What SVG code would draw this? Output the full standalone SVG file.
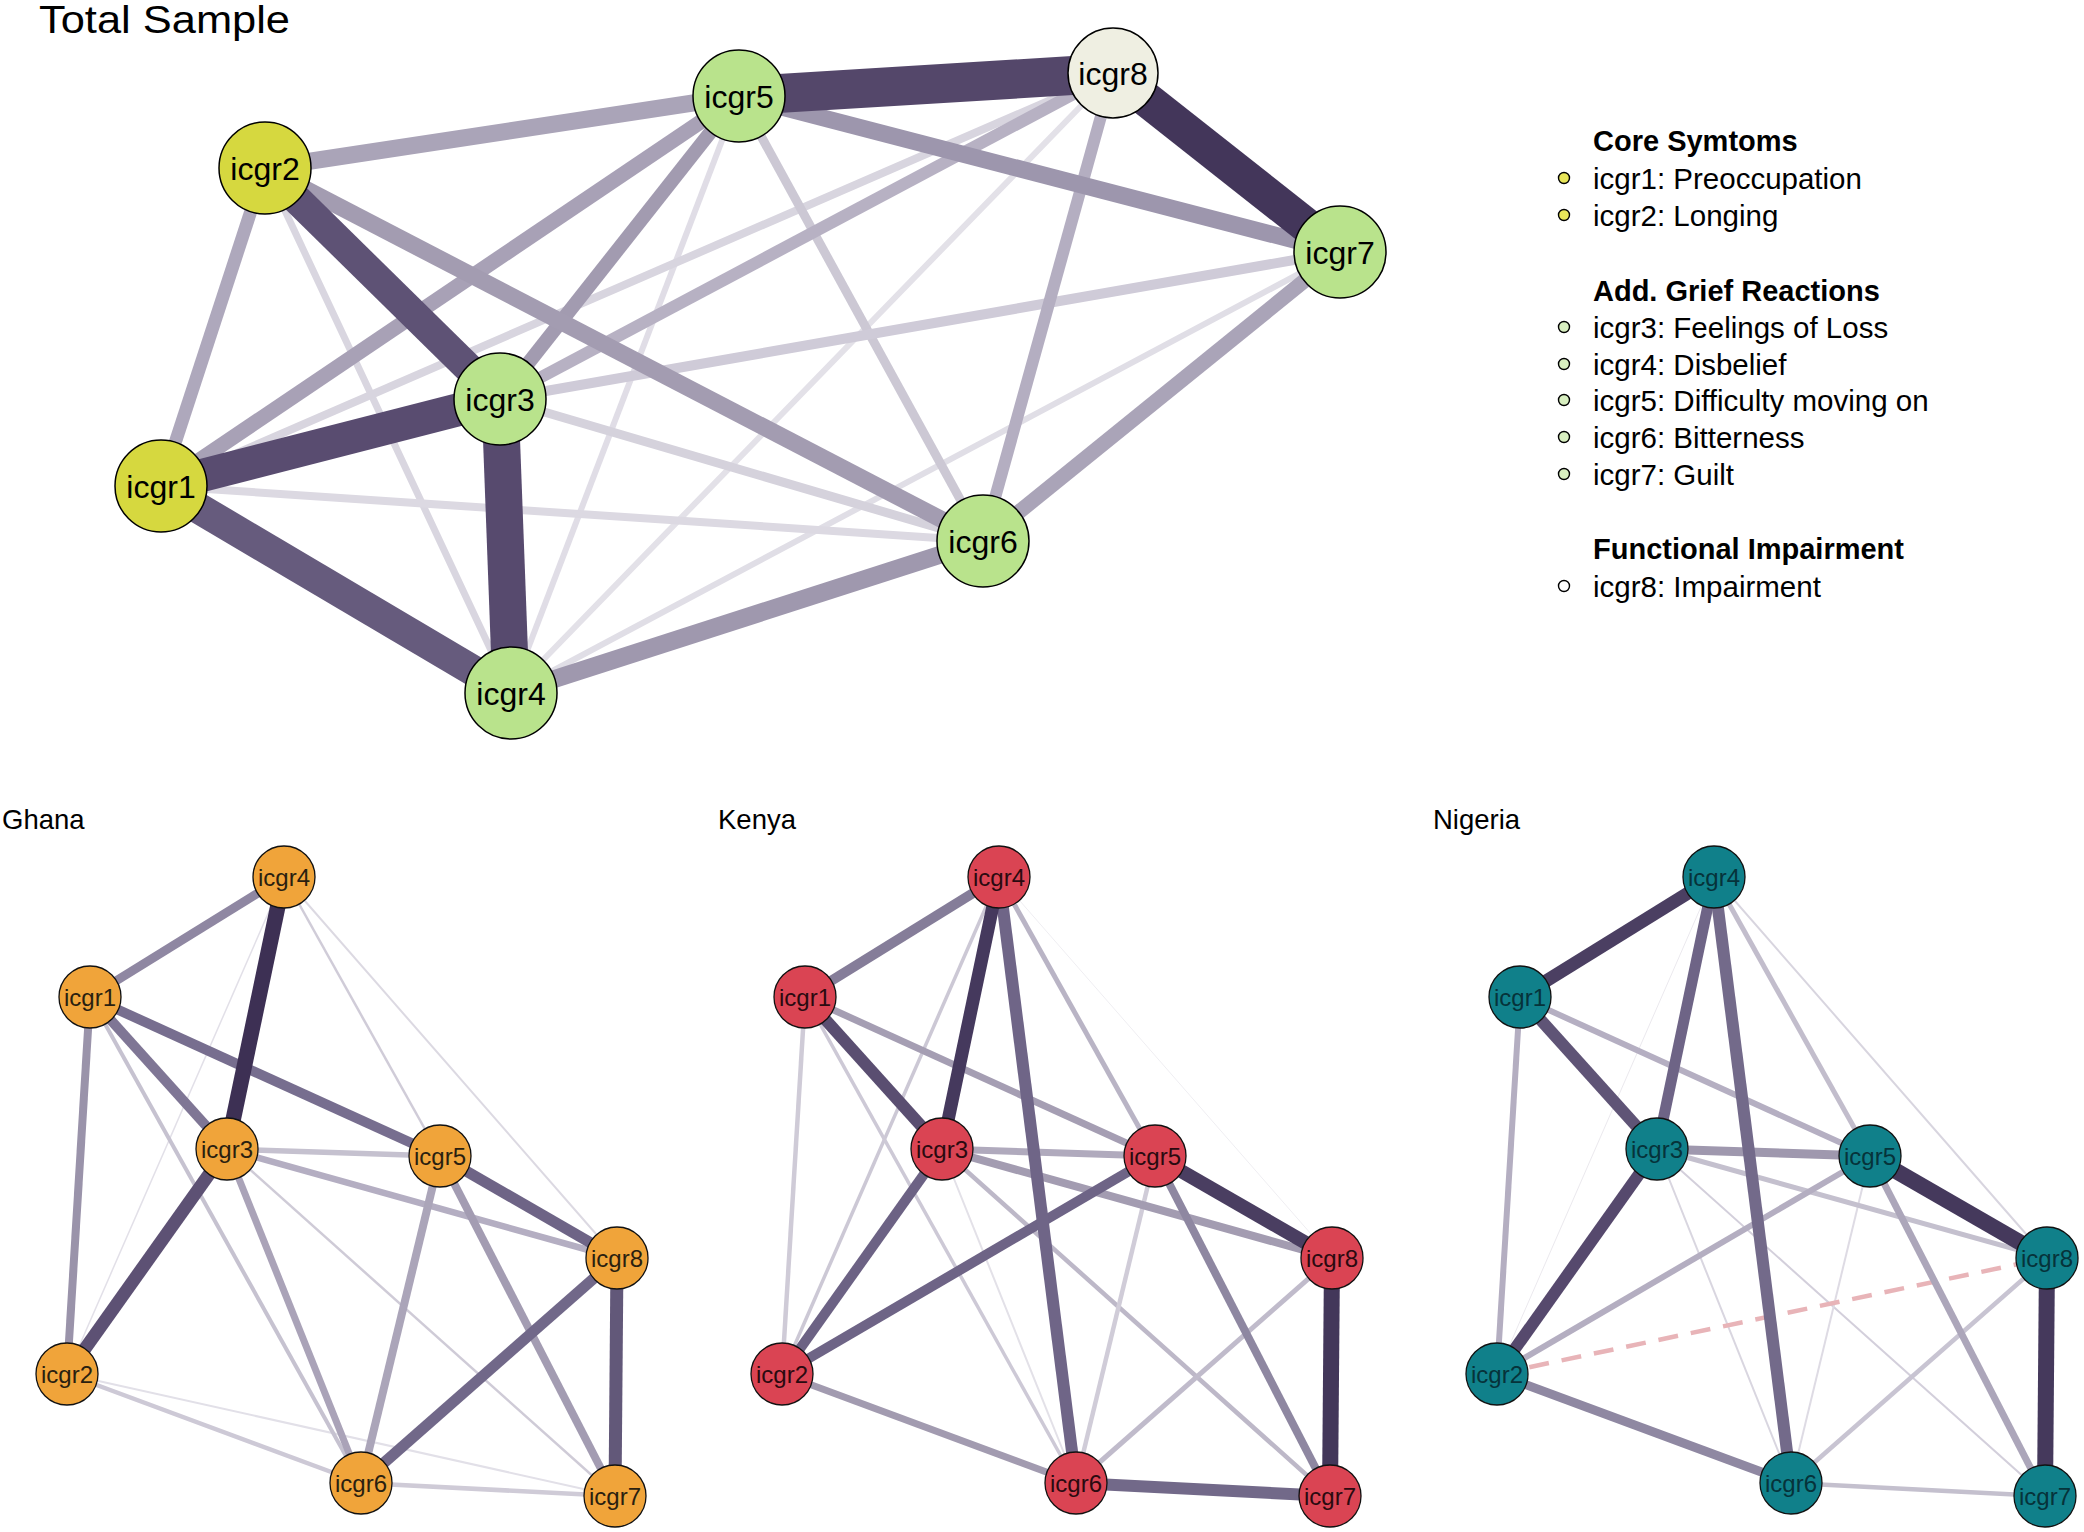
<svg xmlns="http://www.w3.org/2000/svg" width="2084" height="1532" viewBox="0 0 2084 1532">
<style>
text{font-family:"Liberation Sans",Arial,sans-serif}
.e line{stroke-linecap:butt;fill:none}
.tn circle{stroke:#000;stroke-width:1.5}
.tn text{font-size:32px;text-anchor:middle;fill:#000}
.sn circle{stroke:#111;stroke-width:1.3}
.sn text{font-size:24px;text-anchor:middle}
.gh circle{fill:#f0a43a}.gh text{fill:#2a1f10}
.ke circle{fill:#da4453}.ke text{fill:#2a0a10}
.ni circle{fill:#10808a}.ni text{fill:#06333a}
.yel{fill:#d6d83f}.grn{fill:#b9e38c}.wht{fill:#efefe2}
.ptitle{font-size:27.5px;fill:#000}
.lh{font-size:29px;font-weight:bold;fill:#000}
.li{font-size:29.5px;fill:#000}
.lb{stroke:#000;stroke-width:1.4}
</style>

<text x="39" y="33" font-size="38" textLength="251" lengthAdjust="spacingAndGlyphs" fill="#000">Total Sample</text>

<g id="ts-edges" class="e">
<line x1="739" y1="96" x2="511" y2="693" stroke="#e0dde6" stroke-width="6"/>
<line x1="1113" y1="73" x2="511" y2="693" stroke="#e3e1e8" stroke-width="6"/>
<line x1="1340" y1="252" x2="511" y2="693" stroke="#e0dee6" stroke-width="6"/>
<line x1="265" y1="168" x2="511" y2="693" stroke="#d9d6e0" stroke-width="7"/>
<line x1="161" y1="486" x2="983" y2="541" stroke="#dcd9e2" stroke-width="8"/>
<line x1="161" y1="486" x2="1113" y2="73" stroke="#d8d5df" stroke-width="8"/>
<line x1="500" y1="399" x2="983" y2="541" stroke="#d5d2dc" stroke-width="9"/>
<line x1="739" y1="96" x2="983" y2="541" stroke="#ccc8d4" stroke-width="9"/>
<line x1="1340" y1="252" x2="500" y2="399" stroke="#cfcbd8" stroke-width="10"/>
<line x1="1113" y1="73" x2="500" y2="399" stroke="#b7b1c3" stroke-width="12"/>
<line x1="1113" y1="73" x2="983" y2="541" stroke="#b4aec1" stroke-width="12"/>
<line x1="161" y1="486" x2="265" y2="168" stroke="#aea8bc" stroke-width="13"/>
<line x1="500" y1="399" x2="739" y2="96" stroke="#a29bb0" stroke-width="14"/>
<line x1="1340" y1="252" x2="983" y2="541" stroke="#aaa4b8" stroke-width="15"/>
<line x1="161" y1="486" x2="739" y2="96" stroke="#a8a1b6" stroke-width="15"/>
<line x1="265" y1="168" x2="739" y2="96" stroke="#aaa4b8" stroke-width="17"/>
<line x1="265" y1="168" x2="983" y2="541" stroke="#a39cb1" stroke-width="17"/>
<line x1="739" y1="96" x2="1340" y2="252" stroke="#9d96ad" stroke-width="17"/>
<line x1="511" y1="693" x2="983" y2="541" stroke="#9f98ae" stroke-width="18"/>
<line x1="265" y1="168" x2="500" y2="399" stroke="#5e5275" stroke-width="30"/>
<line x1="161" y1="486" x2="511" y2="693" stroke="#665b7d" stroke-width="31"/>
<line x1="161" y1="486" x2="500" y2="399" stroke="#594c70" stroke-width="33"/>
<line x1="500" y1="399" x2="511" y2="693" stroke="#574a6e" stroke-width="37"/>
<line x1="1113" y1="73" x2="1340" y2="252" stroke="#43365a" stroke-width="35"/>
<line x1="739" y1="96" x2="1113" y2="73" stroke="#54476a" stroke-width="39"/>
</g>

<g class="tn">
<g id="ts-icgr1"><circle cx="161" cy="486" r="46" class="yel"/><text x="161" y="498">icgr1</text></g>
<g id="ts-icgr2"><circle cx="265" cy="168" r="46" class="yel"/><text x="265" y="180">icgr2</text></g>
<g id="ts-icgr3"><circle cx="500" cy="399" r="46" class="grn"/><text x="500" y="411">icgr3</text></g>
<g id="ts-icgr4"><circle cx="511" cy="693" r="46" class="grn"/><text x="511" y="705">icgr4</text></g>
<g id="ts-icgr5"><circle cx="739" cy="96" r="46" class="grn"/><text x="739" y="108">icgr5</text></g>
<g id="ts-icgr6"><circle cx="983" cy="541" r="46" class="grn"/><text x="983" y="553">icgr6</text></g>
<g id="ts-icgr7"><circle cx="1340" cy="252" r="46" class="grn"/><text x="1340" y="264">icgr7</text></g>
<g id="ts-icgr8"><circle cx="1113" cy="73" r="45" class="wht"/><text x="1113" y="85">icgr8</text></g>
</g>

<g id="legend">
<text x="1593" y="151" class="lh">Core Symtoms</text>
<circle cx="1564" cy="178" r="5.5" fill="#e8e65a" class="lb"/><text x="1593" y="189" class="li">icgr1: Preoccupation</text>
<circle cx="1564" cy="215" r="5.5" fill="#e8e65a" class="lb"/><text x="1593" y="226" class="li">icgr2: Longing</text>
<text x="1593" y="301" class="lh">Add. Grief Reactions</text>
<circle cx="1564" cy="327" r="5.5" fill="#d8efc0" class="lb"/><text x="1593" y="338" class="li">icgr3: Feelings of Loss</text>
<circle cx="1564" cy="364" r="5.5" fill="#d8efc0" class="lb"/><text x="1593" y="375" class="li">icgr4: Disbelief</text>
<circle cx="1564" cy="400" r="5.5" fill="#d8efc0" class="lb"/><text x="1593" y="411" class="li">icgr5: Difficulty moving on</text>
<circle cx="1564" cy="437" r="5.5" fill="#d8efc0" class="lb"/><text x="1593" y="448" class="li">icgr6: Bitterness</text>
<circle cx="1564" cy="474" r="5.5" fill="#d8efc0" class="lb"/><text x="1593" y="485" class="li">icgr7: Guilt</text>
<text x="1593" y="559" class="lh">Functional Impairment</text>
<circle cx="1564" cy="586" r="5.5" fill="#ffffff" class="lb"/><text x="1593" y="597" class="li">icgr8: Impairment</text>
</g>

<!-- Ghana -->
<text x="2" y="829" class="ptitle">Ghana</text>
<g id="gh-edges" class="e">
<line x1="284" y1="877" x2="67" y2="1374" stroke="#e2e0e8" stroke-width="1.5"/>
<line x1="67" y1="1374" x2="615" y2="1496" stroke="#e2e0e8" stroke-width="2"/>
<line x1="284" y1="877" x2="617" y2="1258" stroke="#dcd9e2" stroke-width="2"/>
<line x1="284" y1="877" x2="440" y2="1156" stroke="#d0ccd8" stroke-width="2.5"/>
<line x1="227" y1="1149" x2="615" y2="1496" stroke="#cfcbd7" stroke-width="2.5"/>
<line x1="90" y1="997" x2="361" y2="1483" stroke="#c6c2d0" stroke-width="4"/>
<line x1="67" y1="1374" x2="361" y2="1483" stroke="#cdc9d6" stroke-width="4.5"/>
<line x1="361" y1="1483" x2="615" y2="1496" stroke="#cfcbd7" stroke-width="4.5"/>
<line x1="227" y1="1149" x2="440" y2="1156" stroke="#c5c1cf" stroke-width="5.5"/>
<line x1="227" y1="1149" x2="617" y2="1258" stroke="#b4aec2" stroke-width="6.5"/>
<line x1="227" y1="1149" x2="361" y2="1483" stroke="#aaa3b8" stroke-width="7"/>
<line x1="440" y1="1156" x2="361" y2="1483" stroke="#aba5b9" stroke-width="8"/>
<line x1="440" y1="1156" x2="615" y2="1496" stroke="#a39cb2" stroke-width="8"/>
<line x1="90" y1="997" x2="67" y2="1374" stroke="#9a93aa" stroke-width="8"/>
<line x1="284" y1="877" x2="90" y2="997" stroke="#8f87a2" stroke-width="9"/>
<line x1="90" y1="997" x2="227" y2="1149" stroke="#7f7695" stroke-width="10"/>
<line x1="90" y1="997" x2="440" y2="1156" stroke="#776e8f" stroke-width="10"/>
<line x1="617" y1="1258" x2="361" y2="1483" stroke="#716889" stroke-width="11"/>
<line x1="440" y1="1156" x2="617" y2="1258" stroke="#6e6486" stroke-width="11"/>
<line x1="617" y1="1258" x2="615" y2="1496" stroke="#625879" stroke-width="13"/>
<line x1="227" y1="1149" x2="67" y2="1374" stroke="#5d5174" stroke-width="13"/>
<line x1="284" y1="877" x2="227" y2="1149" stroke="#3d3054" stroke-width="15.5"/>
</g>
<g class="sn gh">
<g id="gh-icgr1"><circle cx="90" cy="997" r="31"/><text x="90" y="1005.5">icgr1</text></g>
<g id="gh-icgr2"><circle cx="67" cy="1374" r="31"/><text x="67" y="1382.5">icgr2</text></g>
<g id="gh-icgr3"><circle cx="227" cy="1149" r="31"/><text x="227" y="1157.5">icgr3</text></g>
<g id="gh-icgr4"><circle cx="284" cy="877" r="31"/><text x="284" y="885.5">icgr4</text></g>
<g id="gh-icgr5"><circle cx="440" cy="1156" r="31"/><text x="440" y="1164.5">icgr5</text></g>
<g id="gh-icgr6"><circle cx="361" cy="1483" r="31"/><text x="361" y="1491.5">icgr6</text></g>
<g id="gh-icgr7"><circle cx="615" cy="1496" r="31"/><text x="615" y="1504.5">icgr7</text></g>
<g id="gh-icgr8"><circle cx="617" cy="1258" r="31"/><text x="617" y="1266.5">icgr8</text></g>
</g>

<!-- Kenya -->
<text x="718" y="829" class="ptitle">Kenya</text>
<g transform="translate(715,0)">
<g id="ke-edges" class="e">
<line x1="284" y1="877" x2="617" y2="1258" stroke="#efeef2" stroke-width="1"/>
<line x1="227" y1="1149" x2="361" y2="1483" stroke="#e3e1e8" stroke-width="2"/>
<line x1="284" y1="877" x2="67" y2="1374" stroke="#ccc8d5" stroke-width="3.5"/>
<line x1="90" y1="997" x2="361" y2="1483" stroke="#cdc9d6" stroke-width="3.5"/>
<line x1="90" y1="997" x2="67" y2="1374" stroke="#cfcbd7" stroke-width="4.5"/>
<line x1="227" y1="1149" x2="615" y2="1496" stroke="#bdb8c8" stroke-width="4.5"/>
<line x1="440" y1="1156" x2="361" y2="1483" stroke="#d0ccd8" stroke-width="4.5"/>
<line x1="617" y1="1258" x2="361" y2="1483" stroke="#c0bbcb" stroke-width="5"/>
<line x1="284" y1="877" x2="440" y2="1156" stroke="#b9b4c5" stroke-width="5"/>
<line x1="90" y1="997" x2="440" y2="1156" stroke="#a59eb3" stroke-width="7"/>
<line x1="227" y1="1149" x2="440" y2="1156" stroke="#b0aabd" stroke-width="7"/>
<line x1="67" y1="1374" x2="361" y2="1483" stroke="#a29bb0" stroke-width="7"/>
<line x1="227" y1="1149" x2="617" y2="1258" stroke="#a39cb1" stroke-width="8"/>
<line x1="440" y1="1156" x2="615" y2="1496" stroke="#8e87a1" stroke-width="8"/>
<line x1="284" y1="877" x2="90" y2="997" stroke="#857d99" stroke-width="10"/>
<line x1="227" y1="1149" x2="67" y2="1374" stroke="#6c6284" stroke-width="10"/>
<line x1="440" y1="1156" x2="67" y2="1374" stroke="#6e6486" stroke-width="10"/>
<line x1="90" y1="997" x2="227" y2="1149" stroke="#5a4e71" stroke-width="12"/>
<line x1="361" y1="1483" x2="615" y2="1496" stroke="#726989" stroke-width="12"/>
<line x1="284" y1="877" x2="361" y2="1483" stroke="#6f6587" stroke-width="12"/>
<line x1="284" y1="877" x2="227" y2="1149" stroke="#45395d" stroke-width="13"/>
<line x1="440" y1="1156" x2="617" y2="1258" stroke="#4a3e61" stroke-width="14"/>
<line x1="617" y1="1258" x2="615" y2="1496" stroke="#43375a" stroke-width="16"/>
</g>
<g class="sn ke">
<g id="ke-icgr1"><circle cx="90" cy="997" r="31"/><text x="90" y="1005.5">icgr1</text></g>
<g id="ke-icgr2"><circle cx="67" cy="1374" r="31"/><text x="67" y="1382.5">icgr2</text></g>
<g id="ke-icgr3"><circle cx="227" cy="1149" r="31"/><text x="227" y="1157.5">icgr3</text></g>
<g id="ke-icgr4"><circle cx="284" cy="877" r="31"/><text x="284" y="885.5">icgr4</text></g>
<g id="ke-icgr5"><circle cx="440" cy="1156" r="31"/><text x="440" y="1164.5">icgr5</text></g>
<g id="ke-icgr6"><circle cx="361" cy="1483" r="31"/><text x="361" y="1491.5">icgr6</text></g>
<g id="ke-icgr7"><circle cx="615" cy="1496" r="31"/><text x="615" y="1504.5">icgr7</text></g>
<g id="ke-icgr8"><circle cx="617" cy="1258" r="31"/><text x="617" y="1266.5">icgr8</text></g>
</g>
</g>

<!-- Nigeria -->
<text x="1433" y="829" class="ptitle">Nigeria</text>
<g transform="translate(1430,0)">
<g id="ni-edges" class="e">
<line x1="284" y1="877" x2="67" y2="1374" stroke="#ebe9ee" stroke-width="1"/>
<line x1="284" y1="877" x2="617" y2="1258" stroke="#d8d5df" stroke-width="2"/>
<line x1="227" y1="1149" x2="361" y2="1483" stroke="#d9d6e0" stroke-width="2"/>
<line x1="227" y1="1149" x2="615" y2="1496" stroke="#d3cfdb" stroke-width="2"/>
<line x1="440" y1="1156" x2="361" y2="1483" stroke="#dedbe4" stroke-width="2"/>
<line x1="67" y1="1374" x2="617" y2="1258" stroke="#e8b4b8" stroke-width="4.5" stroke-dasharray="20 13"/>
<line x1="617" y1="1258" x2="361" y2="1483" stroke="#c8c4d2" stroke-width="4.5"/>
<line x1="361" y1="1483" x2="615" y2="1496" stroke="#c4c0ce" stroke-width="4.5"/>
<line x1="227" y1="1149" x2="617" y2="1258" stroke="#c4c0ce" stroke-width="5"/>
<line x1="284" y1="877" x2="440" y2="1156" stroke="#c2bdcc" stroke-width="5"/>
<line x1="90" y1="997" x2="440" y2="1156" stroke="#b5afc2" stroke-width="6"/>
<line x1="90" y1="997" x2="67" y2="1374" stroke="#b4aec1" stroke-width="6"/>
<line x1="440" y1="1156" x2="67" y2="1374" stroke="#b4aec1" stroke-width="6"/>
<line x1="440" y1="1156" x2="615" y2="1496" stroke="#aca6ba" stroke-width="7"/>
<line x1="227" y1="1149" x2="440" y2="1156" stroke="#9f98ae" stroke-width="9"/>
<line x1="67" y1="1374" x2="361" y2="1483" stroke="#8f88a2" stroke-width="9"/>
<line x1="284" y1="877" x2="227" y2="1149" stroke="#6e6486" stroke-width="11"/>
<line x1="284" y1="877" x2="361" y2="1483" stroke="#736a8a" stroke-width="12"/>
<line x1="90" y1="997" x2="227" y2="1149" stroke="#5f5476" stroke-width="12"/>
<line x1="227" y1="1149" x2="67" y2="1374" stroke="#56496d" stroke-width="12"/>
<line x1="284" y1="877" x2="90" y2="997" stroke="#4b3f62" stroke-width="13"/>
<line x1="440" y1="1156" x2="617" y2="1258" stroke="#45395c" stroke-width="16"/>
<line x1="617" y1="1258" x2="615" y2="1496" stroke="#45395c" stroke-width="16"/>
</g>
<g class="sn ni">
<g id="ni-icgr1"><circle cx="90" cy="997" r="31"/><text x="90" y="1005.5">icgr1</text></g>
<g id="ni-icgr2"><circle cx="67" cy="1374" r="31"/><text x="67" y="1382.5">icgr2</text></g>
<g id="ni-icgr3"><circle cx="227" cy="1149" r="31"/><text x="227" y="1157.5">icgr3</text></g>
<g id="ni-icgr4"><circle cx="284" cy="877" r="31"/><text x="284" y="885.5">icgr4</text></g>
<g id="ni-icgr5"><circle cx="440" cy="1156" r="31"/><text x="440" y="1164.5">icgr5</text></g>
<g id="ni-icgr6"><circle cx="361" cy="1483" r="31"/><text x="361" y="1491.5">icgr6</text></g>
<g id="ni-icgr7"><circle cx="615" cy="1496" r="31"/><text x="615" y="1504.5">icgr7</text></g>
<g id="ni-icgr8"><circle cx="617" cy="1258" r="31"/><text x="617" y="1266.5">icgr8</text></g>
</g>
</g>
</svg>
